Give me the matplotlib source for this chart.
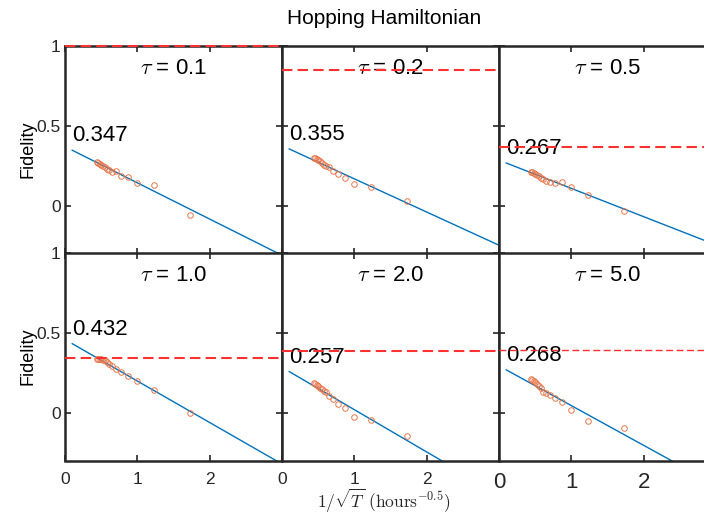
import numpy as np
import matplotlib
matplotlib.use("Agg")
from matplotlib import pyplot as plt

plt.rcParams['font.family'] = ['Liberation Sans', 'DejaVu Sans']
plt.rcParams['mathtext.fontset'] = 'cm'

# data
x_pts = [1.732, 1.225, 1.0, 0.866, 0.775, 0.707, 0.655, 0.612, 0.577,
         0.548, 0.522, 0.5, 0.480, 0.463, 0.447]

taus = ['0.1', '0.2', '0.5', '1.0', '2.0', '5.0']

fid = [
    [-0.060, 0.128, 0.144, 0.180, 0.186, 0.220, 0.212, 0.225, 0.232,
     0.245, 0.248, 0.255, 0.262, 0.266, 0.272],
    [0.029, 0.117, 0.138, 0.174, 0.197, 0.220, 0.241, 0.249, 0.255,
     0.266, 0.280, 0.287, 0.291, 0.297, 0.300],
    [-0.033, 0.069, 0.119, 0.151, 0.142, 0.147, 0.157, 0.168, 0.176,
     0.186, 0.193, 0.199, 0.203, 0.210, 0.212],
    [-0.002, 0.143, 0.200, 0.231, 0.256, 0.273, 0.294, 0.307, 0.317,
     0.327, 0.332, 0.336, 0.338, 0.338, 0.338],
    [-0.147, -0.044, -0.025, 0.030, 0.057, 0.084, 0.105, 0.128, 0.137,
     0.147, 0.157, 0.164, 0.170, 0.179, 0.185],
    [-0.096, -0.052, 0.017, 0.069, 0.091, 0.111, 0.122, 0.132, 0.154,
     0.168, 0.181, 0.189, 0.195, 0.206, 0.210],
]

# extrapolated value at x = 0.1 and slope of fit
fit_start = [0.347, 0.355, 0.267, 0.432, 0.257, 0.268]
fit_slope = [-0.227, -0.208, -0.177, -0.260, -0.265, -0.249]
ref_level = [1.0, 0.85, 0.37, 0.343, 0.389, 0.39]

fig = plt.figure(figsize=(7.04, 5.17), dpi=100)
W, H = 704, 517
lefts = [65, 282, 499]
tops = [46, 253]
aw, ah = 217, 207.5

frame_col = '#262626'
red_lw = [1.5, 1.5, 1.5, 1.5, 1.5, 1.0]

for i in range(6):
    r, c = divmod(i, 3)
    ax = fig.add_axes([lefts[c] / W, 1 - (tops[r] + ah) / H, aw / W, ah / H])
    ax.set_xlim(0, 3)
    ax.set_ylim(-0.3, 1)

    xf = np.array([0.1, 3.0])
    ax.plot(xf, fit_start[i] + fit_slope[i] * (xf - 0.1), color='#0072BD', lw=1.0)
    ax.plot(x_pts, fid[i], 'o', mfc='none', mec='#E8764A', mew=0.7, ms=4)
    ax.axhline(ref_level[i], color='#FF3030', ls='--', lw=red_lw[i], dashes=(5, 2.5),
               clip_on=False, zorder=5)

    ax.text(0.5, 0.89, r'$\tau$ = ' + taus[i], transform=ax.transAxes,
            ha='center', va='center', fontsize=16)
    ax.text(0.1, fit_start[i] + 0.09, '%.3f' % fit_start[i],
            ha='left', va='center', fontsize=16)

    ax.set_xticks([0, 1, 2, 3])
    ax.set_yticks([0, 0.5, 1])
    ax.tick_params(direction='in', top=True, right=True, length=4,
                   width=1.2, colors=frame_col, labelsize=12.5)
    ax.tick_params(axis='x', pad=8)
    ax.tick_params(axis='y', pad=3)
    for s in ax.spines.values():
        s.set_linewidth(1.8)
        s.set_color(frame_col)

    if r == 1:
        if c == 2:
            ax.set_xticklabels(['0', '1', '2', ''], fontsize=16)
        else:
            ax.set_xticklabels(['0', '1', '2', ''])
    else:
        ax.set_xticklabels([])
    if c == 0:
        ax.set_yticklabels(['0', '0.5', '1'])
        ax.set_ylabel('Fidelity', fontsize=13, labelpad=0)
    else:
        ax.set_yticklabels([])

fig.text(0.545, 0.965, 'Hopping Hamiltonian', ha='center', va='center', fontsize=15)
fig.text(0.545, 0.031, r'$1/\sqrt{T}\ (\mathrm{hours}^{-0.5})$',
         ha='center', va='center', fontsize=12.5, color='#262626')

fig.savefig('out.png', dpi=100)
